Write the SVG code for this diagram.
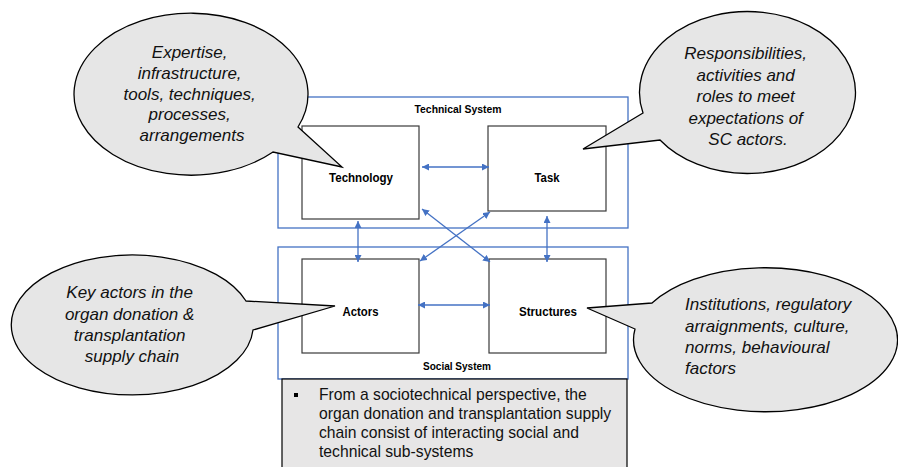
<svg xmlns="http://www.w3.org/2000/svg" width="898" height="467" viewBox="0 0 898 467">
<style>
.sys{fill:none;stroke:#4472C4;stroke-width:1.3}
.node{fill:#fff;stroke:#3a3a3a;stroke-width:1.2}
.lbl{font-family:"Liberation Sans",Arial,sans-serif;font-weight:bold;font-size:13px;fill:#000;text-anchor:middle}
.sysl{font-family:"Liberation Sans",Arial,sans-serif;font-weight:bold;font-size:11.5px;fill:#000;text-anchor:middle}
.conn line{stroke:#4472C4;stroke-width:1.3;marker-start:url(#ah);marker-end:url(#ah)}
.callout{fill:#e6e6e6;stroke:#000;stroke-width:1.3;stroke-linejoin:miter}
.ct{font-family:"Liberation Sans",Arial,sans-serif;font-style:italic;font-size:17px;fill:#111}
.note{font-family:"Liberation Sans",Arial,sans-serif;font-size:15.7px;fill:#111}
</style>
<defs>
<marker id="ah" viewBox="0 0 10 10" refX="10" refY="5" markerWidth="7" markerHeight="7" markerUnits="userSpaceOnUse" orient="auto-start-reverse">
<path d="M0,0 L10,5 L0,10 Z" fill="#4472C4"/>
</marker>
</defs>
<rect width="898" height="467" fill="#fff"/>
<g id="technical-system">
<rect class="sys" x="278" y="97" width="350" height="131"/>
<text class="sysl" x="458" y="112.5" textLength="87" lengthAdjust="spacingAndGlyphs">Technical System</text>
</g>
<g id="social-system">
<rect class="sys" x="278" y="247" width="350" height="132"/>
<text class="sysl" x="457" y="369.5" textLength="68" lengthAdjust="spacingAndGlyphs">Social System</text>
</g>
<g id="technology">
<rect class="node" x="302" y="126" width="117" height="93"/>
<text class="lbl" x="361" y="181.5" textLength="64" lengthAdjust="spacingAndGlyphs">Technology</text>
</g>
<g id="task">
<rect class="node" x="488" y="126" width="118" height="85"/>
<text class="lbl" x="547" y="181.5" textLength="25" lengthAdjust="spacingAndGlyphs">Task</text>
</g>
<g id="actors">
<rect class="node" x="302" y="259" width="117" height="94"/>
<text class="lbl" x="360.5" y="315.5" textLength="36" lengthAdjust="spacingAndGlyphs">Actors</text>
</g>
<g id="structures">
<rect class="node" x="489" y="259" width="117" height="94"/>
<text class="lbl" x="548" y="315.5" textLength="58" lengthAdjust="spacingAndGlyphs">Structures</text>
</g>
<g id="connectors" class="conn">
<line x1="422" y1="167" x2="489" y2="167"/>
<line x1="358" y1="221" x2="358" y2="262"/>
<line x1="547" y1="216" x2="547" y2="262"/>
<line x1="422" y1="209" x2="490" y2="262"/>
<line x1="490" y1="212" x2="420" y2="261"/>
<line x1="418" y1="305" x2="490" y2="305"/>
</g>
<g id="note">
<rect x="282" y="379" width="345" height="100" fill="#e7e6e6" stroke="#000" stroke-width="1.2"/>
<rect x="294" y="393" width="4" height="4" fill="#000"/>
<text class="note" x="319" y="400">From a sociotechnical perspective, the</text>
<text class="note" x="319" y="419">organ donation and transplantation supply</text>
<text class="note" x="319" y="438">chain consist of interacting social and</text>
<text class="note" x="319" y="457">technical sub-systems</text>
</g>
<g id="callout-technology">
<path class="callout" d="M298,127 L342,167 L273,152 A117,81 0 1 1 298,127 Z"/>
<text class="ct" text-anchor="middle">
<tspan x="192" y="58">Expertise,</tspan>
<tspan x="192" y="79">infrastructure,</tspan>
<tspan x="192" y="99.5">tools, techniques,</tspan>
<tspan x="192" y="120">processes,</tspan>
<tspan x="192" y="141">arrangements</tspan>
</text>
</g>
<g id="callout-task">
<path class="callout" d="M643,113 L583,149 L660,140 A108,81 0 1 0 643,113 Z"/>
<text class="ct" text-anchor="middle">
<tspan x="748" y="59">Responsibilities,</tspan>
<tspan x="748" y="80.5">activities and</tspan>
<tspan x="748" y="102">roles to meet</tspan>
<tspan x="748" y="123.5">expectations of</tspan>
<tspan x="748" y="145">SC actors.</tspan>
</text>
</g>
<g id="callout-actors">
<path class="callout" d="M246,301 L335,306 L253,330 A121,70 0 1 1 246,301 Z"/>
<text class="ct" text-anchor="middle">
<tspan x="132" y="298">Key actors in the</tspan>
<tspan x="132" y="319.5">organ donation &amp;</tspan>
<tspan x="132" y="341">transplantation</tspan>
<tspan x="132" y="362">supply chain</tspan>
</text>
</g>
<g id="callout-structures">
<path class="callout" d="M652,303 L587,308 L635,329 A132,72 0 1 0 652,303 Z"/>
<text class="ct">
<tspan x="685" y="310">Institutions, regulatory</tspan>
<tspan x="685" y="331.5">arraignments, culture,</tspan>
<tspan x="685" y="353">norms, behavioural</tspan>
<tspan x="685" y="374">factors</tspan>
</text>
</g>
</svg>
